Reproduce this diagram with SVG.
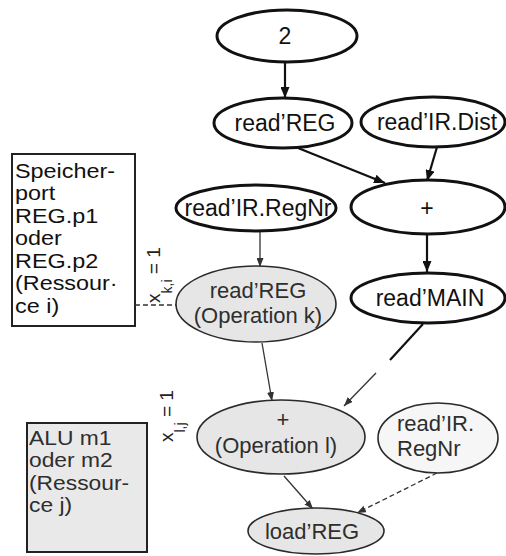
<svg xmlns="http://www.w3.org/2000/svg" width="506" height="556" viewBox="0 0 506 556">
  <style>
    text { font-family: "Liberation Sans", Arial, Helvetica, sans-serif; }
    .bold { fill: #ffffff; stroke: #111111; stroke-width: 3; }
    .gray { fill: #e6e6e6; stroke: #2a2a2a; stroke-width: 1.6; }
    .light { fill: #f6f6f6; stroke: #2a2a2a; stroke-width: 1.6; }
    .lbl { font-size: 23px; fill: #111111; text-anchor: middle; }
    .glbl { font-size: 22px; fill: #2e2e2e; text-anchor: middle; }
    .glbl-l { font-size: 22px; fill: #2e2e2e; }
    .box { fill: #ffffff; stroke: #222222; stroke-width: 2; }
    .boxg { fill: #e9e9e9; stroke: #222222; stroke-width: 2; }
    .btxt { font-size: 19.5px; fill: #111111; }
    .btxtg { font-size: 19.5px; fill: #2e2e2e; }
    .heavy { fill: none; stroke: #111111; stroke-width: 2.2; }
    .thin { fill: none; stroke: #333333; stroke-width: 1.3; }
    .dash { fill: none; stroke: #333333; stroke-width: 1.3; stroke-dasharray: 5 3; }
    .var { font-size: 19px; fill: #222222; }
  </style>
  <defs>
    <marker id="ah" markerUnits="userSpaceOnUse" markerWidth="11" markerHeight="9" refX="11" refY="4.5" orient="auto">
      <path d="M0,0 L11,4.5 L0,9 z" fill="#111111"/>
    </marker>
    <marker id="ahs" markerUnits="userSpaceOnUse" markerWidth="9" markerHeight="7" refX="9" refY="3.5" orient="auto">
      <path d="M0,0 L9,3.5 L0,7 z" fill="#333333"/>
    </marker>
  </defs>

  <!-- resource boxes: tightly set text, widened horizontally -->
  <g id="box-speicherport">
    <rect class="box" x="12" y="154" width="123" height="172"/>
    <text class="btxt" transform="translate(15,0) scale(1.2,1)" x="0" y="178">Speicher-<tspan x="0" dy="22.5">port</tspan><tspan x="0" dy="22.5">REG.p1</tspan><tspan x="0" dy="22.5">oder</tspan><tspan x="0" dy="22.5">REG.p2</tspan><tspan x="0" dy="22.5">(Ressour·</tspan><tspan x="0" dy="22.5">ce i)</tspan></text>
  </g>
  <g id="box-alu">
    <rect class="boxg" x="27" y="423" width="120" height="129"/>
    <text class="btxtg" transform="translate(29,0) scale(1.17,1)" x="0" y="445">ALU m1<tspan x="0" dy="22.5">oder m2</tspan><tspan x="0" dy="22.5">(Ressour-</tspan><tspan x="0" dy="22.5">ce j)</tspan></text>
  </g>

  <!-- binding variables -->
  <g id="var-xki">
    <text class="var" transform="translate(160,303) rotate(-90)">x<tspan font-size="14" dy="12">k,i</tspan><tspan dy="-12"> = 1</tspan></text>
  </g>
  <g id="var-xlj">
    <text class="var" transform="translate(173,442) rotate(-90)">x<tspan font-size="14" dy="12">l,j</tspan><tspan dy="-12"> = 1</tspan></text>
  </g>

  <!-- connectors -->
  <g id="connectors">
    <path class="heavy" d="M285,62 L285,98" marker-end="url(#ah)"/>
    <path class="heavy" d="M298,148 L385,183" marker-end="url(#ah)"/>
    <path class="heavy" d="M437,147 L427,181" marker-end="url(#ah)"/>
    <path class="heavy" d="M427,234 L427,272" marker-end="url(#ah)"/>
    <path class="thin" d="M260,232 L260,267" marker-end="url(#ahs)"/>
    <path class="heavy" d="M423,324 L390,360"/>
    <path class="thin" d="M376,373 L344,406" marker-end="url(#ahs)"/>
    <path class="thin" d="M262,343 L272,401" marker-end="url(#ahs)"/>
    <path class="thin" d="M284,476 L313,509" marker-end="url(#ahs)"/>
    <path class="dash" d="M437,473 L357,513" marker-end="url(#ahs)"/>
    <path class="dash" d="M135,305 L177,305"/>
  </g>

  <!-- operation nodes -->
  <g id="node-2">
    <ellipse class="bold" cx="287" cy="36" rx="70" ry="26"/>
    <text class="lbl" x="285" y="44">2</text>
  </g>
  <g id="node-read-reg">
    <ellipse class="bold" cx="283" cy="123" rx="69" ry="25"/>
    <text class="lbl" x="285" y="131">read’REG</text>
  </g>
  <g id="node-read-ir-dist">
    <ellipse class="bold" cx="433" cy="122" rx="72" ry="25"/>
    <text class="lbl" x="437" y="130">read’IR.Dist</text>
  </g>
  <g id="node-read-ir-regnr">
    <ellipse class="bold" cx="256" cy="208" rx="80" ry="23"/>
    <text class="lbl" x="258" y="216">read’IR.RegNr</text>
  </g>
  <g id="node-plus">
    <ellipse class="bold" cx="428" cy="207" rx="77" ry="27"/>
    <text class="lbl" x="427" y="216">+</text>
  </g>
  <g id="node-read-main">
    <ellipse class="bold" cx="428" cy="298" rx="77" ry="25"/>
    <text class="lbl" x="430" y="306">read’MAIN</text>
  </g>
  <g id="node-op-k">
    <ellipse class="gray" cx="256" cy="304" rx="80" ry="38"/>
    <text class="glbl" x="258" y="298">read’REG<tspan x="258" dy="25">(Operation k)</tspan></text>
  </g>
  <g id="node-op-l">
    <ellipse class="gray" cx="281" cy="437" rx="84" ry="37"/>
    <text class="glbl" x="283" y="427">+<tspan x="276" dy="25.5">(Operation l)</tspan></text>
  </g>
  <g id="node-read-ir-regnr-2">
    <ellipse class="light" cx="438" cy="438" rx="60" ry="35"/>
    <text class="glbl-l" x="397" y="431">read’IR.<tspan x="397" dy="25">RegNr</tspan></text>
  </g>
  <g id="node-load-reg">
    <ellipse class="gray" cx="316" cy="531" rx="68" ry="23"/>
    <text class="glbl" x="312" y="539">load’REG</text>
  </g>
</svg>
